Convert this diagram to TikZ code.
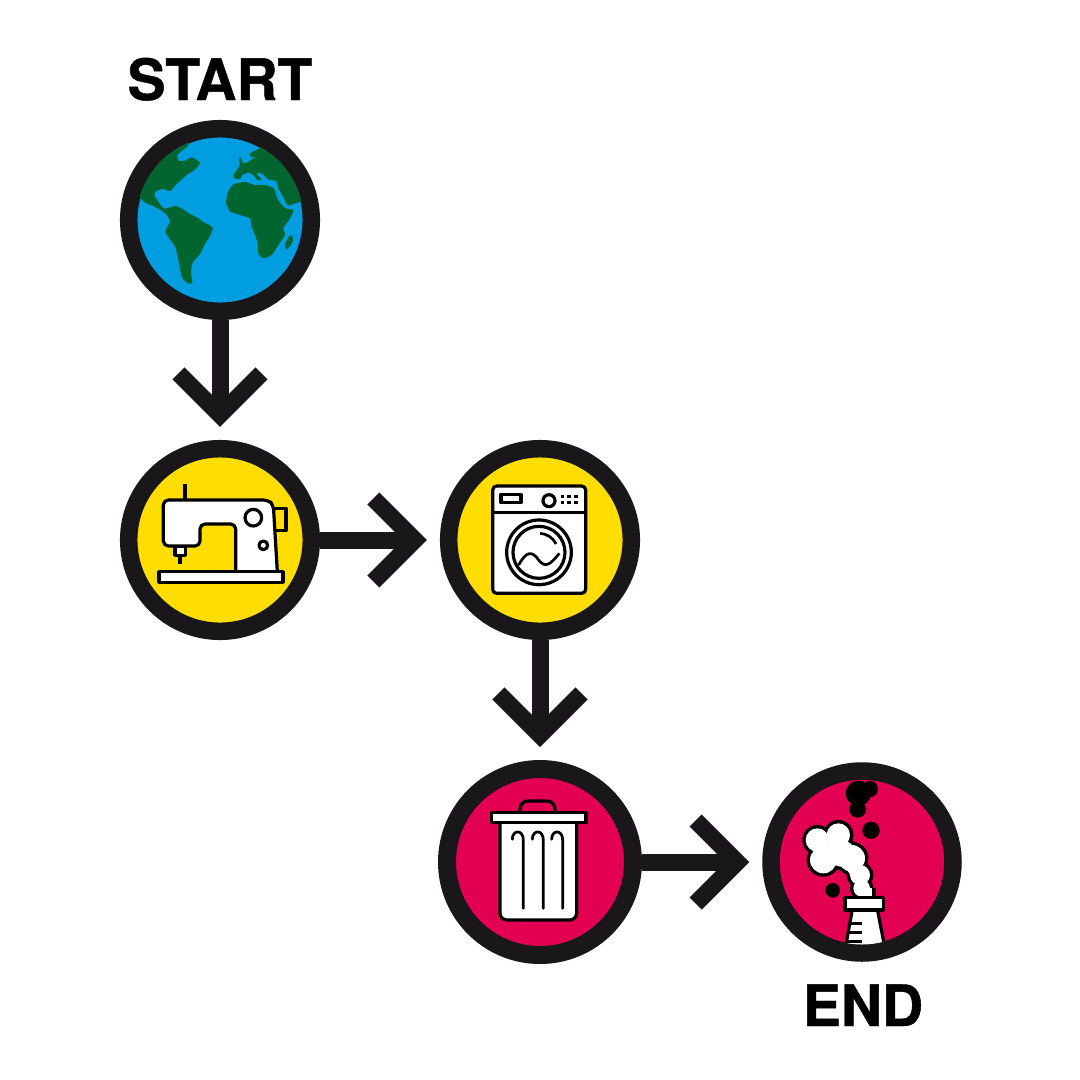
\documentclass[tikz,border=0pt]{standalone}
\usepackage{fontspec}
\setmainfont{TeX Gyre Heros}
\newfontfamily\heavyfont[UprightFont={* Bold},FakeBold=0.8]{TeX Gyre Heros}
\usetikzlibrary{arrows.meta}
\definecolor{ringc}{HTML}{1A171B}
\definecolor{seac}{HTML}{009EE0}
\definecolor{landc}{HTML}{00652E}
\definecolor{yelc}{HTML}{FFDD00}
\definecolor{pinkc}{HTML}{E40050}
\tikzset{
  stage/.style={circle,draw=ringc,line width=17.5pt,minimum size=182.6pt,inner sep=0pt,outer sep=8.75pt},
  bigstage/.style={stage,line width=18pt,minimum size=186pt,outer sep=9pt},
  conn/.style={draw=ringc,line width=17pt,shorten >=13pt,-{Straight Barb[length=41.5pt,width=83pt,line width=17pt]}},
  title/.style={font=\fontsize{57}{57}\heavyfont,inner sep=0pt,anchor=base},
  zm/.style={x=0.33333pt,y=-0.33333pt},
  ink/.style={draw=black,line width=3.2pt,line join=round},
  thin ink/.style={draw=black,line width=2.7pt,line cap=round},
  land/.style={fill=landc,draw=none},
}
\newcommand{\puff}[3]{\fill[black] (#1,#2) circle[radius=#3+5];}
\newcommand{\puffw}[3]{\fill[white] (#1,#2) circle[radius=#3-5];}
\begin{document}
\begin{tikzpicture}[x=1pt,y=-1pt]
\useasboundingbox (0,0) rectangle (1080,1080);
\fill[white] (0,0) rectangle (1080,1080);
\node[stage,fill=seac] (globe) at (220,220) {};
\node[stage,fill=yelc] (sew) at (220,540) {};
\node[stage,fill=yelc] (wash) at (540,540) {};
\node[bigstage,fill=pinkc] (bin) at (540,862) {};
\node[stage,fill=pinkc,minimum size=182pt] (smoke) at (862,862) {};
\node[title] (startlabel) at (220,100) {START};
\node[title] (endlabel) at (863,1026) {END};
\draw[conn] (globe) -- (sew);
\draw[conn] (sew) -- (wash);
\draw[conn] (wash) -- (bin);
\draw[conn] (bin) -- (smoke);
% globe
\begin{scope}
\clip (globe.center) circle[radius=83.5];
\begin{scope}[shift={(120,120)},zm]
\fill[land] plot[smooth,tension=.35] coordinates {(205,78)(185,93)(172,106)(176,122)(195,122)(215,112)(240,128)(225,148)(200,165)(172,190)(150,213)(130,207)(108,213)(103,226)(112,240)(122,255)(133,266)(150,262)(165,258)(185,265)(210,282)(235,295)(250,306)(278,322)(270,348)(255,372)(240,402)(217,430)(213,460)(217,490)(200,488)(185,470)(175,420)(165,380)(140,345)(137,330)(150,305)(140,285)(125,272)(100,258)(75,248)(58,232)} -- (0,200) -- (0,40) -- (205,40) -- cycle;
\fill[land] plot[smooth,tension=.35] coordinates {(318,250)(322,220)(340,193)(375,186)(405,195)(435,195)(462,205)(472,236)(495,264)(520,270)(510,295)(490,325)(495,345)(475,375)(455,405)(430,415)(415,400)(412,365)(395,320)(390,295)(360,285)(330,275)} -- cycle;
\fill[land] plot[smooth cycle,tension=.5] coordinates {(515,345)(518,365)(500,388)(495,375)(503,355)};
\fill[land] plot[smooth,tension=.35] coordinates {(440,78)(415,87)(388,102)(395,112)(412,110)(398,116)(385,125)(370,130)(360,110)(357,120)(360,135)(350,150)(340,165)(345,177)(360,177)(367,165)(385,158)(400,165)(412,180)(425,180)(410,160)(425,160)(445,178)(468,183)(474,203)(490,232)(505,256)(545,243)} -- (620,240) -- (620,40) -- (440,40) -- cycle;
\end{scope}
\end{scope}
% sewing machine
\begin{scope}[shift={(120,440)},zm]
\draw[ink,fill=yelc] (460,205) -- (498,205) -- (498,272) -- (465,272);
\draw[ink,fill=white] (165,320) rectangle (197,346);
\draw[ink,line cap=butt] (180,346) -- (180,373);
\draw[ink,line cap=butt] (195,132) -- (195,180);
\draw[ink,fill=white,rounded corners=5pt] (472,395) -- (460,195) -- (445,180) -- (130,180) -- (130,318) -- (240,318) -- (240,252) -- (347,252) -- (347,395);
\draw[ink,fill=white] (400,233) circle[radius=25];
\draw[ink,fill=white] (430,316) circle[radius=13];
\draw[ink,fill=white] (117,395) rectangle (489,427);
\end{scope}
% washing machine
\begin{scope}[shift={(440,440)},zm]
\draw[ink,fill=white,rounded corners=4pt] (158,138) rectangle (437,460);
\draw[ink] (158,217) -- (437,217);
\draw[ink] (183,163) rectangle (243,188);
\draw[ink] (327,182) circle[radius=18];
\foreach \px in {367,387,408}{\foreach \py in {170,187}{\fill[black] (\px-5,\py-5) rectangle (\px+5,\py+5);}}
\draw[ink] (297,337) circle[radius=97];
\draw[ink] (297,337) circle[radius=78];
\draw[thin ink,line cap=butt] (300,280) arc[start angle=-87,end angle=-26,radius=57];
\draw[thin ink,line cap=butt] (236,375) .. controls (258,335) and (275,330) .. (296,360) .. controls (315,385) and (330,375) .. (358,340);
\end{scope}
% bin
\begin{scope}[shift={(440,760)},zm]
\draw[ink,rounded corners=8pt,fill=pinkc] (240,158) -- (240,123) -- (345,123) -- (345,158);
\draw[ink,fill=white,rounded corners=7pt] (180,185) -- (180,480) -- (410,480) -- (410,185);
\draw[ink,fill=white] (155,158) rectangle (438,188);
\foreach \rx in {250,310,368}{
\draw[thin ink] (\rx,445) -- (\rx,240) .. controls (\rx,208) and (\rx-33,208) .. (\rx-33,238);
}
\end{scope}
% factory
\begin{scope}
\clip (smoke.center) circle[radius=91];
\begin{scope}[shift={(760,760)},zm]
\fill[black] (295,100) circle[radius=38];
\fill[black] (330,87) circle[radius=24];
\fill[black] (293,148) circle[radius=25];
\end{scope}
\end{scope}
\begin{scope}
\clip (smoke.center) circle[radius=82.5];
\begin{scope}[shift={(760,760)},zm]
\fill[black] (333,211) circle[radius=26];
\fill[black] (218,391) circle[radius=22];
\puff{172}{240}{40}\puff{235}{225}{40}\puff{190}{300}{45}\puff{245}{280}{45}\puff{275}{295}{45}\puff{300}{345}{35}\puff{305}{385}{30}
\fill[black] (284,385) rectangle (347,415);
\puffw{172}{240}{40}\puffw{235}{225}{40}\puffw{190}{300}{45}\puffw{245}{280}{45}\puffw{275}{295}{45}\puffw{300}{345}{35}\puffw{305}{385}{30}
\fill[white] (180,250) -- (240,240) -- (285,300) -- (315,385) -- (295,385) -- (250,310) -- (190,310) -- cycle;
\fill[white] (294,385) rectangle (337,415);
\draw[ink,fill=white] (277,448) -- (255,570) -- (376,570) -- (352,448);
\draw[ink,fill=white] (255,413) rectangle (370,450);
\draw[thin ink,line cap=butt] (270,490) -- (305,490);
\draw[thin ink,line cap=butt] (268,517) -- (305,517);
\draw[thin ink,line cap=butt] (262,544) -- (305,544);
\end{scope}
\end{scope}
\end{tikzpicture}
\end{document}
